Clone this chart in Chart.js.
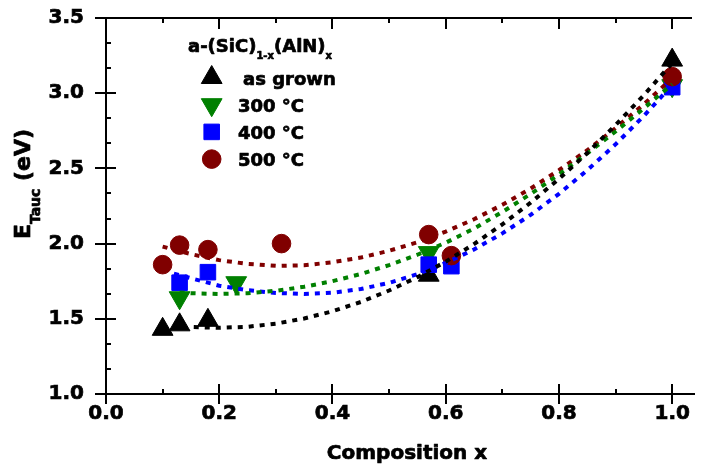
<!DOCTYPE html>
<html><head><meta charset="utf-8">
<script src="https://cdn.jsdelivr.net/npm/chart.js@4.4.1/dist/chart.umd.min.js"></script>
<style>html,body{margin:0;padding:0;background:#fff;}canvas{display:block;}</style>
</head><body>
<canvas id="c" width="705" height="468"></canvas>
<script>
// ---- axis ticks ----
const xTicks = [0.0, 0.2, 0.4, 0.6, 0.8, 1.0];
const xMinorTicks = [0.1, 0.3, 0.5, 0.7, 0.9];
const yTicks = [1.0, 1.5, 2.0, 2.5, 3.0, 3.5];
const yMinorTicks = [1.1667, 1.3333, 1.6667, 1.8333, 2.1667, 2.3333, 2.6667, 2.8333, 3.1667, 3.3333];
const xMin = 0, xMax = 1.035, yMin = 1.0, yMax = 3.5;

// ---- measured data ----
const seriesNames = ['as grown', '300 \u00B0C', '400 \u00B0C', '500 \u00B0C'];
const grownX = [0.10, 0.13, 0.18, 0.57, 1.00];
const grownY = [1.43, 1.46, 1.49, 1.79, 3.22];
const c300X = [0.13, 0.23, 0.57, 1.00];
const c300Y = [1.64, 1.74, 1.94, 3.05];
const c400X = [0.13, 0.18, 0.57, 0.61, 1.00];
const c400Y = [1.74, 1.81, 1.86, 1.85, 3.04];
const c500X = [0.10, 0.13, 0.18, 0.31, 0.57, 0.61, 1.00];
const c500Y = [1.86, 1.99, 1.96, 2.00, 2.06, 1.92, 3.11];

// ---- fit curves ----
const fitGrownX = [0.155,0.20,0.25,0.30,0.35,0.40,0.45,0.50,0.55,0.60,0.65,0.70,0.75,0.80,0.85,0.90,0.95,1.00];
const fitGrownY = [1.445,1.44,1.447,1.468,1.502,1.55,1.612,1.688,1.777,1.88,1.997,2.128,2.272,2.43,2.602,2.788,2.987,3.20];
const fit300X = [0.13,0.15,0.20,0.25,0.30,0.35,0.40,0.45,0.50,0.55,0.60,0.65,0.70,0.75,0.80,0.85,0.90,0.95,1.00];
const fit300Y = [1.675,1.67,1.665,1.67,1.686,1.713,1.75,1.798,1.857,1.926,2.006,2.10,2.21,2.33,2.46,2.60,2.745,2.90,3.06];
const fit400X = [0.12,0.15,0.20,0.25,0.30,0.35,0.40,0.45,0.50,0.55,0.60,0.65,0.70,0.75,0.80,0.85,0.90,0.95,1.00];
const fit400Y = [1.80,1.77,1.72,1.69,1.672,1.665,1.673,1.698,1.739,1.797,1.871,1.961,2.068,2.191,2.331,2.488,2.66,2.849,3.055];
const fit500X = [0.10,0.15,0.20,0.25,0.30,0.35,0.40,0.45,0.50,0.55,0.60,0.65,0.70,0.75,0.80,0.85,0.90,0.95,1.00];
const fit500Y = [1.98,1.93,1.89,1.865,1.852,1.856,1.876,1.907,1.952,2.009,2.08,2.162,2.258,2.366,2.488,2.621,2.768,2.927,3.10];

const colors = ['#000000', '#008000', '#0000ff', '#800000'];
const FONT = '"DejaVu Sans", sans-serif';
const STROKE = 0.7;

const pts = (xs, ys) => xs.map((v, i) => ({x: v, y: ys[i]}));

const markerStyles = [
  {pointStyle: 'triangle', radius: 12, rotation: 0},
  {pointStyle: 'triangle', radius: 12, rotation: 180},
  {pointStyle: 'rect', radius: 11, rotation: 0},
  {pointStyle: 'circle', radius: 9.3, rotation: 0}
];

function markerSet(i, data, order) {
  return {
    label: seriesNames[i], data, showLine: false, order,
    pointStyle: markerStyles[i].pointStyle,
    pointRadius: markerStyles[i].radius,
    pointRotation: markerStyles[i].rotation,
    pointBackgroundColor: colors[i], pointBorderColor: colors[i], pointBorderWidth: 1,
    pointHoverRadius: markerStyles[i].radius
  };
}
function fitSet(i, data) {
  return {
    label: seriesNames[i] + ' fit', data, showLine: true, order: 0,
    borderColor: colors[i], borderWidth: 4, borderDash: [5, 6],
    pointRadius: 0, pointHoverRadius: 0, fill: false, tension: 0
  };
}

function boldText(ctx, t, x, y) {
  ctx.lineWidth = STROKE; ctx.strokeStyle = ctx.fillStyle; ctx.lineJoin = 'round';
  ctx.fillText(t, x, y); ctx.strokeText(t, x, y);
}

const axesPlugin = {
  id: 'axesPlugin',
  afterDraw(chart) {
    const {ctx, chartArea: a, scales: {x, y}} = chart;
    ctx.save();
    ctx.strokeStyle = '#000'; ctx.lineWidth = 2; ctx.lineCap = 'butt';
    ctx.beginPath();
    ctx.moveTo(a.left, a.top); ctx.lineTo(a.left, a.bottom + 10);
    ctx.moveTo(a.left - 11, a.bottom); ctx.lineTo(a.right + 3, a.bottom);
    ctx.moveTo(a.left - 11, a.top); ctx.lineTo(a.right, a.top);
    xTicks.forEach(v => {
      const px = Math.round(x.getPixelForValue(v));
      ctx.moveTo(px, a.bottom - 10); ctx.lineTo(px, a.bottom + 10);
      ctx.moveTo(px, a.top); ctx.lineTo(px, a.top + 11);
    });
    xMinorTicks.forEach(v => {
      const px = Math.round(x.getPixelForValue(v));
      ctx.moveTo(px, a.bottom); ctx.lineTo(px, a.bottom - 5);
      ctx.moveTo(px, a.top); ctx.lineTo(px, a.top + 5);
    });
    yTicks.forEach(v => {
      const py = Math.round(y.getPixelForValue(v));
      ctx.moveTo(a.left - 11, py); ctx.lineTo(a.left + 10, py);
    });
    yMinorTicks.forEach(v => {
      const py = Math.round(y.getPixelForValue(v));
      ctx.moveTo(a.left, py); ctx.lineTo(a.left + 5, py);
    });
    ctx.stroke();

    // axis titles
    ctx.fillStyle = '#000';
    ctx.textBaseline = 'alphabetic';
    ctx.font = 'bold 20px ' + FONT;
    ctx.textAlign = 'center';
    boldText(ctx, 'Composition x', 407, 459);

    // y title with subscript, rotated
    ctx.save();
    ctx.translate(30, 184);
    ctx.rotate(-Math.PI / 2);
    ctx.textAlign = 'left';
    const fBig = 'bold 22px ' + FONT, fSub = 'bold 14px ' + FONT;
    ctx.font = fBig; const wE = ctx.measureText('E').width;
    const wR = ctx.measureText(' (eV)').width;
    ctx.font = fSub; const wS = ctx.measureText('Tauc').width;
    let sx = -(wE + wS + wR) / 2;
    ctx.font = fBig; boldText(ctx, 'E', sx, 0); sx += wE;
    ctx.font = fSub; boldText(ctx, 'Tauc', sx, 10); sx += wS;
    ctx.font = fBig; boldText(ctx, ' (eV)', sx, 0);
    ctx.restore();
    ctx.restore();
  }
};

function drawMarker(ctx, i, cx, cy) {
  ctx.fillStyle = colors[i]; ctx.strokeStyle = colors[i]; ctx.lineWidth = 1;
  Chart.helpers.drawPoint(ctx, {pointStyle: markerStyles[i].pointStyle, radius: markerStyles[i].radius,
    rotation: markerStyles[i].rotation, borderWidth: 1}, cx, cy);
}

const legendPlugin = {
  id: 'legendPlugin',
  afterDraw(chart) {
    const ctx = chart.ctx;
    ctx.save();
    ctx.fillStyle = '#000'; ctx.textAlign = 'left'; ctx.textBaseline = 'alphabetic';
    // title a-(SiC)1-x(AlN)x
    const fT = 'bold 18px ' + FONT, fS = 'bold 10px ' + FONT;
    let tx = 188; const ty = 52;
    const parts = [['a-(SiC)', fT, 0], ['1-x', fS, 6.5], ['(AlN)', fT, 0], ['x', fS, 6.5]];
    parts.forEach(([t, f, dy]) => { ctx.font = f; ctx.fillStyle = '#000'; boldText(ctx, t, tx, ty + dy); tx += ctx.measureText(t).width; });
    const rowY = [77.5, 104.7, 131.9, 159.1];
    const textX = [243, 238, 238, 238];
    seriesNames.forEach((name, i) => {
      drawMarker(ctx, i, 211.7, rowY[i]);
      ctx.font = 'bold 18px ' + FONT; ctx.fillStyle = '#000';
      boldText(ctx, name, textX[i], rowY[i] + 7);
    });
    ctx.restore();
  }
};

const zeroPad = s => { s.paddingLeft = 0; s.paddingRight = 0; s.paddingTop = 0; s.paddingBottom = 0; };

new Chart(document.getElementById('c'), {
  type: 'scatter',
  data: {
    datasets: [
      fitSet(0, pts(fitGrownX, fitGrownY)),
      fitSet(1, pts(fit300X, fit300Y)),
      fitSet(2, pts(fit400X, fit400Y)),
      fitSet(3, pts(fit500X, fit500Y)),
      markerSet(3, pts(c500X, c500Y), 1),
      markerSet(2, pts(c400X, c400Y), 2),
      markerSet(1, pts(c300X, c300Y), 3),
      markerSet(0, pts(grownX, grownY), 4)
    ]
  },
  options: {
    responsive: false, animation: false, devicePixelRatio: 1,
    layout: {padding: {top: 18, right: 1, left: 0, bottom: 0}},
    plugins: {legend: {display: false}, tooltip: {enabled: false}, title: {display: false}},
    scales: {
      x: {
        type: 'linear', min: xMin, max: xMax,
        grid: {display: false, drawTicks: false}, border: {display: false},
        afterBuildTicks: s => { s.ticks = xTicks.map(v => ({value: v})); },
        afterFit: s => { s.height = 74; zeroPad(s); },
        ticks: {color: '#000', padding: 8, maxRotation: 0, autoSkip: false,
          textStrokeColor: '#000', textStrokeWidth: STROKE,
          font: {family: FONT, size: 20, weight: 'bold'},
          callback: v => Number(v).toFixed(1)}
      },
      y: {
        type: 'linear', min: yMin, max: yMax,
        grid: {display: false, drawTicks: false}, border: {display: false},
        afterBuildTicks: s => { s.ticks = yTicks.map(v => ({value: v})); },
        afterFit: s => { s.width = 106; zeroPad(s); },
        ticks: {color: '#000', padding: 22, autoSkip: false,
          textStrokeColor: '#000', textStrokeWidth: STROKE,
          font: {family: FONT, size: 20, weight: 'bold'},
          callback: v => Number(v).toFixed(1)}
      }
    }
  },
  plugins: [axesPlugin, legendPlugin]
});
</script>
</body></html>
